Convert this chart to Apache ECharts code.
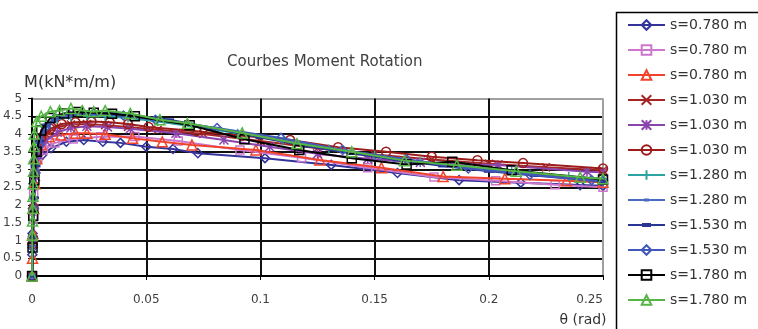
<!DOCTYPE html>
<html><head><meta charset="utf-8">
<script src="https://cdn.jsdelivr.net/npm/echarts@6/dist/echarts.min.js"></script>
<style>html,body{margin:0;padding:0;background:#fff}#c{width:758px;height:329px}</style>
</head><body><div id="c"></div>
<script>
const legendLabels = ['s=0.780 m','s=0.780 m','s=0.780 m','s=1.030 m','s=1.030 m','s=1.030 m','s=1.280 m','s=1.280 m','s=1.530 m','s=1.530 m','s=1.780 m','s=1.780 m'];
const xTicks = [0, 0.05, 0.1, 0.15, 0.2, 0.25];
const yTicks = [0,0.5,1,1.5,2,2.5,3,3.5,4,4.5,5];

// s=0.780 m (diamond)
const t1 = [0,0.0001,0.0002,0.0004,0.0006,0.0009,0.0043,0.0083,0.015,0.0226,0.031,0.0387,0.05,0.0617,0.0726,0.102,0.131,0.16,0.187,0.214,0.24,0.25];
const m1 = [0,0.6,1.2,1.9,2.6,3.22,3.4,3.6,3.78,3.83,3.78,3.75,3.64,3.58,3.46,3.32,3.13,2.9,2.7,2.63,2.56,2.54];
// s=0.780 m (square)
const t2 = [0,0.0002,0.0004,0.0007,0.0012,0.0025,0.005,0.01,0.018,0.03,0.045,0.064,0.091,0.118,0.147,0.176,0.203,0.229,0.25];
const m2 = [0,0.95,1.6,2.3,2.9,3.3,3.55,3.75,3.86,3.92,3.93,3.8,3.55,3.33,3.05,2.79,2.68,2.57,2.5];
// s=0.780 m (triangle)
const t3 = [0,0.0002,0.0004,0.0007,0.0012,0.002,0.004,0.0075,0.0126,0.019,0.024,0.032,0.044,0.057,0.07,0.098,0.126,0.153,0.18,0.207,0.234,0.25];
const m3 = [0,0.5,1.2,1.9,2.6,3.3,3.7,3.92,3.97,4.02,4.02,3.99,3.88,3.78,3.69,3.55,3.27,3.05,2.8,2.74,2.68,2.64];
// s=1.030 m (x)
const t4 = [0,0.0003,0.0008,0.0015,0.003,0.006,0.011,0.017,0.024,0.032,0.042,0.055,0.075,0.1,0.125,0.15,0.175,0.2,0.225,0.25];
const m4 = [0,1.0,2.1,3.0,3.6,4.0,4.2,4.27,4.28,4.25,4.2,4.12,4.0,3.8,3.6,3.42,3.28,3.16,3.06,2.98];
// s=1.030 m (star)
const t5 = [0,0.0003,0.0008,0.0015,0.003,0.006,0.011,0.017,0.024,0.033,0.043,0.063,0.084,0.104,0.125,0.147,0.17,0.204,0.243,0.25];
const m5 = [0,0.9,1.9,2.8,3.4,3.8,4.05,4.17,4.22,4.2,4.15,4.02,3.83,3.64,3.44,3.3,3.2,3.13,2.94,2.92];
// s=1.030 m (circle)
const t6 = [0,0.0003,0.0007,0.0012,0.002,0.004,0.008,0.013,0.019,0.026,0.034,0.042,0.051,0.072,0.092,0.113,0.134,0.155,0.175,0.195,0.215,0.25];
const m6 = [0,0.9,1.9,2.9,3.5,3.9,4.15,4.28,4.33,4.35,4.33,4.28,4.2,4.08,3.95,3.83,3.63,3.5,3.36,3.26,3.18,3.03];
// s=1.280 m (plus)
const t7 = [0,0.0003,0.0008,0.0015,0.003,0.006,0.011,0.017,0.024,0.032,0.042,0.055,0.07,0.09,0.11,0.13,0.15,0.17,0.19,0.21,0.235,0.25];
const m7 = [0,1.1,2.2,3.1,3.8,4.2,4.42,4.5,4.52,4.5,4.45,4.35,4.22,4.02,3.8,3.58,3.4,3.22,3.08,2.95,2.8,2.74];
// s=1.280 m (short dash)
const t8 = [0,0.0003,0.0008,0.0015,0.003,0.006,0.011,0.018,0.026,0.035,0.045,0.06,0.08,0.1,0.12,0.14,0.16,0.18,0.2,0.22,0.25];
const m8 = [0,1.0,2.1,3.0,3.75,4.2,4.45,4.55,4.57,4.55,4.5,4.38,4.15,3.92,3.7,3.5,3.32,3.15,3.0,2.88,2.72];
// s=1.530 m (long dash)
const t9 = [0,0.0003,0.0008,0.0015,0.003,0.006,0.011,0.018,0.026,0.035,0.045,0.06,0.08,0.1,0.12,0.14,0.16,0.18,0.2,0.22,0.25];
const m9 = [0,1.1,2.2,3.1,3.8,4.25,4.48,4.58,4.6,4.58,4.52,4.4,4.16,3.9,3.66,3.45,3.27,3.1,2.95,2.83,2.66];
// s=1.530 m (diamond)
const t10 = [0,0.0003,0.0008,0.0015,0.003,0.006,0.01,0.016,0.027,0.04,0.054,0.081,0.109,0.136,0.164,0.191,0.218,0.245,0.25];
const m10 = [0,0.8,1.9,2.9,3.7,4.2,4.45,4.55,4.58,4.52,4.4,4.17,3.89,3.55,3.28,3.03,2.85,2.7,2.68];
// s=1.780 m (square)
const t11 = [0,0.0002,0.0005,0.001,0.002,0.004,0.008,0.014,0.02,0.027,0.035,0.045,0.069,0.093,0.117,0.14,0.164,0.184,0.21,0.25];
const m11 = [0,0.8,1.7,2.7,3.5,4.1,4.45,4.58,4.62,4.6,4.57,4.5,4.25,3.85,3.55,3.32,3.14,3.22,2.98,2.72];
// s=1.780 m (triangle)
const t12 = [0,0.0001,0.0002,0.0003,0.0004,0.0005,0.0006,0.0007,0.0008,0.001,0.002,0.004,0.008,0.012,0.017,0.022,0.027,0.032,0.043,0.056,0.068,0.092,0.116,0.14,0.163,0.186,0.212,0.24,0.25];
const m12 = [0,1.15,1.55,1.9,2.25,2.6,2.95,3.3,3.65,4.0,4.35,4.5,4.63,4.66,4.72,4.66,4.63,4.66,4.58,4.4,4.3,4.03,3.73,3.5,3.25,3.12,2.95,2.78,2.74];

const thetas = [t1,t2,t3,t4,t5,t6,t7,t8,t9,t10,t11,t12];
const moments = [m1,m2,m3,m4,m5,m6,m7,m8,m9,m10,m11,m12];

// legend icons for dash-marker series (line + dash), in a 37x12 box
const box = 'M0,0h0.01v0.01h-0.01z M36.99,11.99h0.01v0.01h-0.01z ';
const shortDashIcon = 'path://' + box + 'M0,5h37v2H0z M16,4.5h5v3h-5z';
const longDashIcon  = 'path://' + box + 'M0,5h37v2H0z M14,4h9v4h-9z';

const styles = [
  {c:'#333399', sym:'diamond', size:9, hollow:true},
  {c:'#cc77cc', sym:'rect', size:8, hollow:true},
  {c:'#f0432c', sym:'triangle', size:10, hollow:true},
  {c:'#a52424', sym:'path://M0,0L10,10M10,0L0,10', size:8, hollow:true},
  {c:'#8a45ad', sym:'path://M5,0L5,10M0,0L10,10M10,0L0,10', size:9, hollow:true},
  {c:'#9c1c1c', sym:'circle', size:9, hollow:true},
  {c:'#2ba3a3', sym:'path://M5,0L5,10M0,5L10,5', size:9, hollow:true},
  {c:'#4a6bc4', sym:'rect', size:[7,2], hollow:false, icon: shortDashIcon},
  {c:'#283593', sym:'rect', size:[10,3], hollow:false, icon: longDashIcon},
  {c:'#4258b8', sym:'diamond', size:9, hollow:true},
  {c:'#000000', sym:'rect', size:9, hollow:true},
  {c:'#55b545', sym:'triangle', size:10, hollow:true}
];

const series = thetas.map((t, i) => {
  const s = styles[i];
  return {
    name: 'S' + (i+1),
    type: 'line',
    data: t.map((x, j) => [x, moments[i][j]]),
    symbol: s.sym,
    symbolSize: s.size,
    showAllSymbol: true,
    lineStyle: {color: s.c, width: 2},
    itemStyle: s.hollow ? {color: 'rgba(255,255,255,0)', borderColor: s.c, borderWidth: 1.5}
                        : {color: s.c, borderColor: s.c, borderWidth: 0},
    emphasis: {disabled: true},
    animation: false,
    z: 2 + i
  };
});

const font = 'DejaVu Sans';
const ySplitColors = yTicks.map((v,i) => (i === yTicks.length-1 ? '#a0a0a0' : '#111'));
const xSplitColors = xTicks.map((v,i) => (i === xTicks.length-1 ? '#a0a0a0' : '#111'));

const chart = echarts.init(document.getElementById('c'), null, {renderer:'canvas'});
chart.setOption({
  backgroundColor: '#fff',
  animation: false,
  textStyle: {fontFamily: font},
  title: {
    text: 'Courbes Moment Rotation',
    left: 222, top: 50,
    textStyle: {fontSize: 15, fontWeight: 'normal', color: '#404040', fontFamily: font}
  },
  graphic: [{
    type: 'rect', left: 614, top: 10, z: 0, silent: true,
    shape: {width: 200, height: 400},
    style: {fill: 'none', stroke: '#000', lineWidth: 1.5}
  }],
  legend: {
    orient: 'vertical',
    left: 614, top: 10,
    data: series.map((s, i) => styles[i].icon ? {name: s.name, icon: styles[i].icon} : {name: s.name}),
    formatter: name => legendLabels[parseInt(name.slice(1)) - 1],
    itemWidth: 37, itemHeight: 12, itemGap: 11,
    padding: [8, 10, 2, 13],
    textStyle: {fontSize: 14, color: '#333', fontFamily: font}
  },
  grid: {left: 28, right: 155, top: 98.5, bottom: 53, containLabel: false},
  xAxis: {
    type: 'value', min: xTicks[0], max: xTicks[xTicks.length-1], interval: 0.05,
    name: 'θ (rad)', nameLocation: 'end', nameGap: -20,
    nameTextStyle: {fontSize: 14, color: '#333', align: 'center', verticalAlign: 'top', padding: [37,0,0,0], fontFamily: font},
    axisLine: {show: true, lineStyle: {color: '#000', width: 2}},
    axisTick: {show: true, length: 4, lineStyle: {color: '#000'}},
    axisLabel: {fontSize: 12, color: '#404040', margin: 18, alignMaxLabel: 'right', fontFamily: font,
      formatter: v => String(+v.toFixed(2))},
    splitLine: {show: true, lineStyle: {color: xSplitColors, width: 2}}
  },
  yAxis: {
    type: 'value', min: 0, max: 5, interval: 0.5,
    name: 'M(kN*m/m)', nameLocation: 'end', nameGap: 8,
    nameTextStyle: {fontSize: 16, color: '#333', align: 'left', padding: [0,0,0,-8], fontFamily: font},
    axisLine: {show: true, lineStyle: {color: '#000', width: 2}},
    axisTick: {show: true, length: 4, lineStyle: {color: '#000'}},
    axisLabel: {fontSize: 12, color: '#404040', margin: 10, fontFamily: font},
    splitLine: {show: true, lineStyle: {color: ySplitColors, width: 2}}
  },
  series: series
});
</script></body></html>
